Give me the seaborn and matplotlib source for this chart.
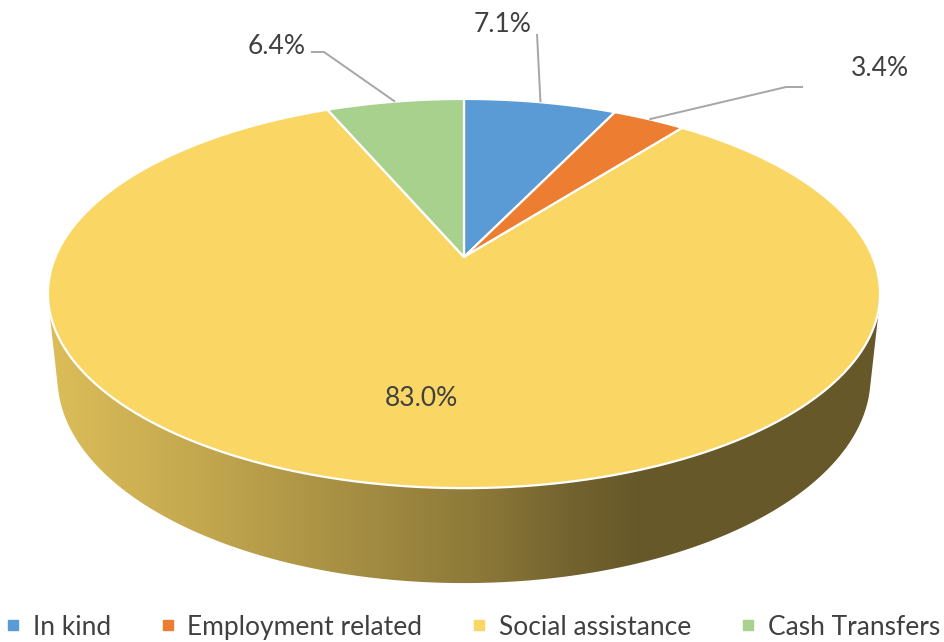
import numpy as np
import matplotlib
matplotlib.use("Agg")
import matplotlib.pyplot as plt
import seaborn as sns
from matplotlib.patches import Polygon
from matplotlib.lines import Line2D
from matplotlib import font_manager

# ---- data -------------------------------------------------------------
categories = ["In kind", "Employment related", "Social assistance", "Cash Transfers"]
shares = [7.1, 3.4, 83.0, 6.4]
slice_colors = ["#5B9BD5", "#ED7D31", "#FAD765", "#A9D18E"]
value_labels = [f"{s:.1f}%" for s in shares]

# ---- style ------------------------------------------------------------
sns.set_theme(style="white")
available = {f.name for f in font_manager.fontManager.ttflist}
families = [f for f in ["Liberation Sans Narrow", "Lato", "DejaVu Sans"] if f in available]
plt.rcParams["font.family"] = families
TEXT_COLOR = "#404040"
LEADER_COLOR = "#A6A6A6"
FS = 19

# ---- perspective camera for a tilted 3-D disc --------------------------
X0, Y0 = 464.0, 257.0          # where the disc centre lands on the canvas
FOCAL = 1933.0
DIST = 4.73
SIN_P = 0.4594
COS_P = np.sqrt(1 - SIN_P ** 2)
THICK = 0.2327


def project(u, v, z):
    depth = DIST + v * COS_P - z * SIN_P
    x = X0 + FOCAL * u / depth
    y = Y0 - FOCAL * (v * SIN_P + z * COS_P) / depth
    return x, y


def rim(t0, t1, z, n=200):
    t = np.linspace(t0, t1, n) * 2 * np.pi
    return project(np.sin(t), np.cos(t), z)


fig = plt.figure(figsize=(9.45, 6.42), dpi=100)
ax = fig.add_axes([0, 0, 1, 1])
ax.set_xlim(0, 945)
ax.set_ylim(642, 0)
ax.axis("off")

fractions = np.array(shares) / np.sum(shares)
starts = np.concatenate([[0], np.cumsum(fractions)[:-1]])
ends = starts + fractions

# side wall: visible where the outward normal faces the camera
v_limit = -1.0 / (DIST * COS_P)
t_front0 = np.arccos(v_limit) / (2 * np.pi)
t_front1 = 1 - t_front0

shade_x = [0, 48, 200, 380, 470, 570, 640, 945]
shade_f = [0.88, 0.88, 0.78, 0.64, 0.57, 0.46, 0.41, 0.41]
xs = np.arange(945)
shade = np.interp(xs, shade_x, shade_f)

for s0, s1, col in zip(starts, ends, slice_colors):
    a, b = max(s0, t_front0), min(s1, t_front1)
    if a >= b:
        continue
    tx, ty = rim(a, b, 0.0)
    bx, by = rim(a, b, -THICK)
    pts = np.column_stack([np.concatenate([tx, bx[::-1]]),
                           np.concatenate([ty, by[::-1]])])
    wall = Polygon(pts, closed=True, facecolor="none", edgecolor="none")
    ax.add_patch(wall)
    rgb = np.array(matplotlib.colors.to_rgb(col))
    grad = np.clip(shade[None, :, None] * rgb[None, None, :], 0, 1)
    grad = np.repeat(grad, 2, axis=0)
    im = ax.imshow(grad, extent=(0, 945, 642, 0), aspect="auto",
                   interpolation="bilinear", zorder=1)
    im.set_clip_path(wall)

# top face
for s0, s1, col in zip(starts, ends, slice_colors):
    tx, ty = rim(s0, s1, 0.0)
    cx, cy = project(0.0, 0.0, 0.0)
    pts = np.column_stack([np.concatenate([[cx], tx]), np.concatenate([[cy], ty])])
    ax.add_patch(Polygon(pts, closed=True, facecolor=col, edgecolor="white",
                         linewidth=1.6, joinstyle="round", zorder=2))

# value labels with leader lines to each slice's rim midpoint
label_pos = [(503, 24), (880, 68), (421, 399), (277, 47)]
leader_knee = [(537, 34), (786, 87), None, (324, 52)]
leader_start = [(537, 34), (803, 87), None, (311, 52)]
for i, txt in enumerate(value_labels):
    ax.text(*label_pos[i], txt, ha="center", va="center", fontsize=FS,
            color=TEXT_COLOR, zorder=5)
    if leader_knee[i] is None:
        continue
    mid = (starts[i] + ends[i]) / 2 * 2 * np.pi
    ex, ey = project(np.sin(mid), np.cos(mid), 0.0)
    ax.plot([leader_start[i][0], leader_knee[i][0], ex],
            [leader_start[i][1], leader_knee[i][1], ey],
            color=LEADER_COLOR, linewidth=1.4, zorder=4, solid_capstyle="butt")

handles = [Line2D([], [], linestyle="none", marker="s", markersize=7,
                  markerfacecolor=c, markeredgecolor=c) for c in slice_colors]
fig.legend(handles, categories, loc="upper center", ncol=4, frameon=False,
           bbox_to_anchor=(0.5, 1 - 604 / 642), fontsize=FS, labelcolor=TEXT_COLOR,
           handlelength=0.6, handletextpad=0.45, columnspacing=1.85,
           borderaxespad=0)

fig.savefig("out.png", dpi=100)
